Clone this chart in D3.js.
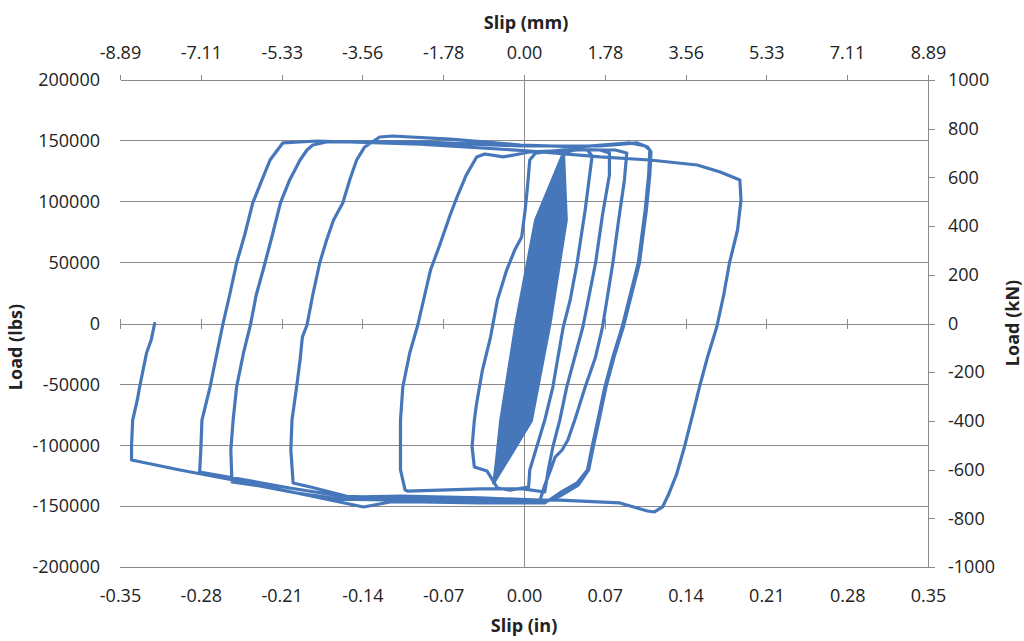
<!DOCTYPE html>
<html>
<head>
<meta charset="utf-8">
<script src="https://cdn.jsdelivr.net/npm/d3@7"></script>
<style>
  html, body { margin: 0; padding: 0; background: #ffffff; }
  svg { display: block; font-family: "Open Sans", "Liberation Sans", sans-serif; }
</style>
</head>
<body>
<svg id="chart" width="1024" height="641"></svg>
<script>
// Tick values for the four axes
const slipInTicks = [-0.35, -0.28, -0.21, -0.14, -0.07, 0, 0.07, 0.14, 0.21, 0.28, 0.35];
const slipMmTicks = [-8.89, -7.11, -5.33, -3.56, -1.78, 0, 1.78, 3.56, 5.33, 7.11, 8.89];
const loadLbsTicks = [-200000, -150000, -100000, -50000, 0, 50000, 100000, 150000, 200000];
const loadKnTicks = [-1000, -800, -600, -400, -200, 0, 200, 400, 600, 800, 1000];

// Recorded slip (in) / load (lbs) history, split by loading stage.
// Elastic cycles around the origin (before major slip)
const elasticCycles = [
  [0, 0],
  [0.0188, 60000], [0.0095, 0], [-0.0014, -50000],
  [0.0043, 0], [0.0203, 85000], [0.0263, 100000], [0.0273, 85000], [0.0121, 0], [-0.0030, -80000], [-0.0145, -100000],
  [-0.0116, -80000], [0.0026, 0], [0.0187, 85000], [0.0302, 120000], [0.0288, 85000], [0.0139, 0], [-0.0015, -80000], [-0.0203, -115000],
  [-0.0132, -80000], [0.0009, 0], [0.0171, 85000], [0.0322, 130000], [0.0304, 85000], [0.0156, 0], [0.0001, -80000], [-0.0229, -122000],
  [-0.0147, -80000], [-0.0009, 0], [0.0156, 85000], [0.0332, 135000], [0.0320, 85000], [0.0173, 0], [0.0016, -80000], [-0.0244, -126000],
  [-0.0163, -80000], [-0.0026, 0], [0.0140, 85000], [0.0338, 138000], [0.0335, 85000], [0.0191, 0], [0.0032, -80000], [-0.0252, -128000],
  [-0.0178, -80000], [-0.0043, 0], [0.0125, 85000], [0.0340, 139000], [0.0351, 85000], [0.0208, 0], [0.0048, -80000], [-0.0260, -130000],
  [-0.0194, -80000], [-0.0061, 0], [0.0109, 85000], [0.0342, 140000], [0.0366, 85000], [0.0225, 0], [0.0063, -80000], [-0.0263, -131000],
  [-0.0171, -80000], [-0.0035, 0], [0.0132, 85000], [0.0338, 138000], [0.0343, 85000], [0.0199, 0], [0.0040, -80000], [-0.0260, -130000],
  [-0.0155, -80000], [-0.0017, 0], [0.0148, 85000], [0.0336, 137000], [0.0327, 85000], [0.0182, 0], [0.0024, -80000], [-0.0256, -129000],
  [-0.0186, -80000], [-0.0052, 0], [0.0117, 85000], [0.0340, 139000], [0.0359, 85000], [0.0217, 0], [0.0055, -80000], [-0.0263, -131000],
  [-0.0139, -80000], [0.0000, 0], [0.0164, 85000], [0.0334, 136000], [0.0312, 85000], [0.0165, 0], [0.0009, -80000], [-0.0252, -128000],
  [-0.0093, -80000], [0.0052, 0], [0.0210, 85000], [0.0336, 137000], [0.0242, 85000], [0.0087, 0], [-0.0061, -80000], [-0.0256, -129000],
  [-0.0108, -80000], [0.0035, 0], [0.0195, 85000], [0.0340, 139000], [0.0265, 85000], [0.0113, 0], [-0.0038, -80000], [-0.0260, -130000],
  [-0.0077, -80000], [0.0069, 0], [0.0226, 85000], [0.0338, 138000], [0.0281, 85000], [0.0130, 0], [-0.0023, -80000], [-0.0263, -131000],
  [-0.0124, -80000], [0.0017, 0], [0.0179, 85000], [0.0334, 136000], [0.0249, 85000], [0.0095, 0], [-0.0054, -80000], [-0.0252, -128000],
  [-0.0085, -80000], [0.0061, 0], [0.0218, 85000], [0.0342, 140000], [0.0296, 85000], [0.0147, 0], [-0.0007, -80000], [-0.0260, -130000],
  [-0.0100, -80000], [0.0043, 0], [0.0203, 85000], [0.0338, 138000], [0.0257, 85000], [0.0104, 0], [-0.0046, -80000], [-0.0256, -129000],
  [-0.0202, -80000], [-0.0069, 0], [0.0101, 85000], [0.0342, 140000]
];

// Slip cycle 1
const cycle1 = [
  [0.044, 142500], [0.055, 142500], [0.059, 137600],
  [0.053, 93200], [0.046, 49700], [0.040, 19300], [0.034, -2900], [0.029, -30000], [0.025, -52200],
  [0.018, -79300], [0.011, -101400], [0.005, -120300], [0.004, -134300],
  [-0.012, -136800], [-0.023, -135100], [-0.032, -121200], [-0.043, -117900],
  [-0.045, -101400], [-0.043, -79300], [-0.041, -65300], [-0.036, -38200], [-0.029, -11100],
  [-0.023, 19300], [-0.015, 43900], [-0.008, 60400], [-0.002, 71100], [0.001, 93200],
  [0.003, 112100], [0.005, 134300], [0.010, 140000]
];

// Slip cycle 2
const cycle2 = [
  [0.040, 143300], [0.066, 142500], [0.074, 140000],
  [0.074, 122000], [0.068, 89100], [0.062, 49700], [0.051, -2900], [0.044, -27500], [0.037, -52200],
  [0.031, -79300], [0.025, -101400], [0.021, -120300], [0.018, -138400],
  [-0.001, -135900], [-0.038, -135900], [-0.073, -136800], [-0.101, -137600], [-0.103, -136800],
  [-0.107, -120300], [-0.107, -101400], [-0.107, -79300], [-0.105, -52200], [-0.099, -24200],
  [-0.092, -1200], [-0.087, 19300], [-0.081, 43900], [-0.073, 64500], [-0.064, 89100],
  [-0.058, 103900], [-0.050, 122000], [-0.041, 136800], [-0.034, 139200], [-0.018, 136800]
];

// Slip cycle 3
const cycle3 = [
  [0.005, 140900], [0.048, 142500], [0.079, 142500], [0.089, 140000],
  [0.087, 117900], [0.082, 85000], [0.077, 49700], [0.068, -2900], [0.062, -27500], [0.053, -52200],
  [0.044, -79300], [0.038, -95700], [0.033, -103900], [0.027, -109700], [0.023, -120300],
  [0.018, -132700], [0.014, -145000],
  [-0.038, -143300], [-0.107, -141700], [-0.151, -142500], [-0.185, -134300], [-0.200, -131000],
  [-0.202, -103900], [-0.201, -79300], [-0.197, -52200], [-0.194, -30000], [-0.192, -11100],
  [-0.188, -1200], [-0.183, 23400], [-0.177, 49700], [-0.171, 68600], [-0.165, 85000],
  [-0.157, 99000], [-0.151, 117900], [-0.145, 134300], [-0.138, 145000], [-0.125, 153200], [-0.114, 154000]
];

// Slip cycle 4
const cycle4 = [
  [-0.064, 151500], [-0.003, 146600], [0.048, 145000], [0.092, 148300], [0.105, 145800], [0.109, 142500],
  [0.108, 122000], [0.105, 93200], [0.099, 49700], [0.092, 23400], [0.085, -2900], [0.077, -27500],
  [0.070, -52200], [0.064, -79300], [0.059, -101400], [0.055, -120300], [0.046, -131000],
  [0.031, -139200], [0.018, -147400],
  [-0.038, -147400], [-0.090, -146600], [-0.116, -146600], [-0.139, -150700], [-0.168, -145000],
  [-0.197, -139200], [-0.229, -133500], [-0.253, -130200],
  [-0.254, -103900], [-0.252, -79300], [-0.249, -52200], [-0.246, -38200], [-0.243, -24200],
  [-0.237, -1200], [-0.232, 23400], [-0.226, 43900], [-0.218, 72700], [-0.211, 99000],
  [-0.203, 117900], [-0.194, 134300], [-0.188, 142500], [-0.183, 146600], [-0.171, 149100]
];

// Slip cycle 5 (repeat of the cycle 4 positive slip)
const cycle5 = [
  [-0.090, 149100], [-0.003, 145800], [0.066, 145800], [0.098, 148300], [0.107, 145000], [0.110, 141000],
  [0.109, 122000], [0.106, 93200], [0.100, 49700], [0.093, 23400], [0.086, -2900], [0.078, -27500],
  [0.071, -52200], [0.065, -79300], [0.060, -101400], [0.056, -120300], [0.047, -132700],
  [0.031, -141700], [0.016, -147400],
  [-0.055, -145000], [-0.125, -143300], [-0.159, -141700], [-0.203, -135100], [-0.246, -127700], [-0.281, -122000],
  [-0.280, -103900], [-0.279, -79300], [-0.272, -52200], [-0.266, -24200], [-0.261, -1200],
  [-0.255, 23400], [-0.249, 49700], [-0.242, 72700], [-0.235, 99000], [-0.227, 117900],
  [-0.220, 134300], [-0.209, 148300], [-0.179, 149900]
];

// Final cycle, largest slip, ending at zero load
const cycle6 = [
  [-0.090, 147400], [0.005, 141700], [0.066, 136800], [0.109, 134300], [0.150, 130200], [0.170, 124400], [0.187, 117900],
  [0.188, 101400], [0.185, 76800], [0.178, 49700], [0.173, 23400], [0.167, -2900], [0.159, -27500],
  [0.152, -52200], [0.146, -75200], [0.139, -101400], [0.132, -124400], [0.125, -140900], [0.120, -150700],
  [0.113, -154800], [0.107, -154000], [0.083, -147400], [0.031, -145000], [-0.038, -145000],
  [-0.107, -145000], [-0.159, -144200], [-0.197, -139200], [-0.252, -128500], [-0.298, -120300], [-0.340, -112100],
  [-0.340, -99800], [-0.339, -79300], [-0.335, -62800], [-0.333, -52200], [-0.330, -38200],
  [-0.327, -24200], [-0.323, -13600], [-0.320, 0]
];

const loadHistory = [].concat(elasticCycles, cycle1, cycle2, cycle3, cycle4, cycle5, cycle6);

// ---- layout ----
const svg = d3.select('#chart');
const plot = { left: 120, right: 928, top: 80, bottom: 567 };
const axisGray = '#8a8a8a';
const textColor = '#222222';
const lineBlue = '#4677bb';

const x = d3.scaleLinear().domain([-0.35, 0.35]).range([plot.left, plot.right]);
const xMm = d3.scaleLinear().domain([-8.89, 8.89]).range([plot.left, plot.right]);
const y = d3.scaleLinear().domain([-200000, 200000]).range([plot.bottom, plot.top]);
const yKn = d3.scaleLinear().domain([-1000, 1000]).range([plot.bottom, plot.top]);

function styleAxis(g) {
  g.attr('font-family', '"Open Sans", "Liberation Sans", sans-serif').attr('font-size', 18);
  g.selectAll('path, line').attr('stroke', axisGray).attr('shape-rendering', 'crispEdges');
  g.selectAll('text').attr('fill', textColor);
}

// horizontal gridlines
svg.append('g')
  .selectAll('line')
  .data(loadLbsTicks.filter(d => d !== 0 && d !== 200000))
  .join('line')
  .attr('x1', plot.left).attr('x2', plot.right)
  .attr('y1', d => y(d)).attr('y2', d => y(d))
  .attr('stroke', axisGray).attr('stroke-width', 1).attr('shape-rendering', 'crispEdges');

// vertical axis line at zero slip
svg.append('line')
  .attr('x1', x(0)).attr('x2', x(0))
  .attr('y1', plot.top).attr('y2', plot.bottom)
  .attr('stroke', axisGray).attr('shape-rendering', 'crispEdges');

// horizontal axis at zero load, with ticks crossing the line
svg.append('g')
  .attr('transform', `translate(0,${y(0)})`)
  .call(d3.axisBottom(x).tickValues(slipInTicks).tickFormat('').tickSize(5).tickSizeOuter(0))
  .call(styleAxis);
svg.append('g')
  .attr('transform', `translate(0,${y(0)})`)
  .call(d3.axisTop(x).tickValues(slipInTicks).tickFormat('').tickSize(5).tickSizeOuter(0))
  .call(styleAxis);

// bottom slip (in) labels
svg.append('g')
  .attr('transform', `translate(0,${plot.bottom})`)
  .call(d3.axisBottom(x).tickValues(slipInTicks).tickFormat(d => d.toFixed(2)).tickSize(0).tickPadding(22))
  .call(g => g.select('.domain').remove())
  .call(styleAxis);

// top slip (mm) axis
svg.append('g')
  .attr('transform', `translate(0,${plot.top})`)
  .call(d3.axisTop(xMm).tickValues(slipMmTicks).tickFormat(d => d.toFixed(2)).tickSize(5).tickSizeOuter(0).tickPadding(16))
  .call(styleAxis);

// left load (lbs) labels
svg.append('g')
  .attr('transform', `translate(${plot.left},0)`)
  .call(d3.axisLeft(y).tickValues(loadLbsTicks).tickFormat(d => String(d)).tickSize(0).tickPadding(20))
  .call(g => g.select('.domain').remove())
  .call(styleAxis);

// right load (kN) axis
svg.append('g')
  .attr('transform', `translate(${plot.right},0)`)
  .call(d3.axisRight(yKn).tickValues(loadKnTicks).tickFormat(d => String(d)).tickSize(7).tickSizeOuter(0).tickPadding(13))
  .call(styleAxis);

// load-slip curve
const line = d3.line().x(d => x(d[0])).y(d => y(d[1]));
svg.append('path')
  .datum(loadHistory)
  .attr('d', line)
  .attr('fill', 'none')
  .attr('stroke', lineBlue)
  .attr('stroke-width', 3.2)
  .attr('stroke-linejoin', 'round')
  .attr('stroke-linecap', 'round');

// axis titles
const titleStyle = t => t
  .attr('font-family', '"Open Sans", "Liberation Sans", sans-serif')
  .attr('font-size', 18).attr('font-weight', 'bold').attr('fill', textColor)
  .attr('text-anchor', 'middle');

svg.append('text').text('Slip (mm)').attr('x', 526).attr('y', 29).call(titleStyle);
svg.append('text').text('Slip (in)').attr('x', 524).attr('y', 632).call(titleStyle);
svg.append('text').text('Load (lbs)')
  .attr('transform', 'translate(22,347) rotate(-90)').call(titleStyle);
svg.append('text').text('Load (kN)')
  .attr('transform', 'translate(1019,323) rotate(-90)').call(titleStyle);
</script>
</body>
</html>
